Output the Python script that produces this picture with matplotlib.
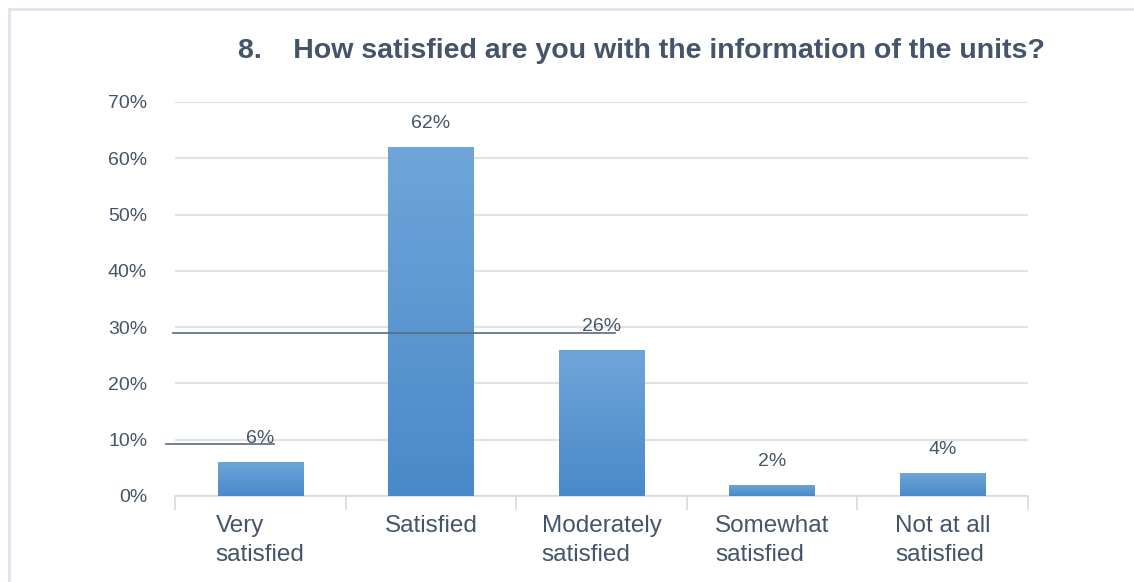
import numpy as np
import matplotlib
matplotlib.use("Agg")
import matplotlib.pyplot as plt
from matplotlib.lines import Line2D
from matplotlib.colors import LinearSegmentedColormap

# chart data
categories = ["Very\nsatisfied", "Satisfied", "Moderately\nsatisfied", "Somewhat\nsatisfied", "Not at all\nsatisfied"]
values = [0.06, 0.62, 0.26, 0.02, 0.04]
value_labels = ["6%", "62%", "26%", "2%", "4%"]
y_ticks = [0, 0.1, 0.2, 0.3, 0.4, 0.5, 0.6, 0.7]
y_tick_labels = ["0%", "10%", "20%", "30%", "40%", "50%", "60%", "70%"]
title = "8.    How satisfied are you with the information of the units?"

text_col = "#44546a"
plt.rcParams['font.family'] = ['Liberation Sans', 'DejaVu Sans']

fig = plt.figure(figsize=(11.34, 5.82), dpi=100)
ax = fig.add_axes([175 / 1134, 1 - 496 / 582, (1028 - 175) / 1134, (496 - 102) / 582])

x = np.arange(len(categories))
bars = ax.bar(x, values, width=0.5, color="#5b9bd5", zorder=2)

# vertical gradient inside each bar
grad = LinearSegmentedColormap.from_list("g", ["#4a89c9", "#6fa5d9"])
for b in bars:
    x0, y0 = b.get_x(), b.get_y()
    w, h = b.get_width(), b.get_height()
    img = ax.imshow(np.linspace(0, 1, 100).reshape(-1, 1), cmap=grad, origin="lower",
                    extent=[x0, x0 + w, y0, y0 + h], aspect="auto", zorder=3)
    img.set_clip_path(b)

ax.set_xlim(-0.5, len(categories) - 0.5)
ax.set_ylim(0, 0.7)
ax.set_yticks(y_ticks)
ax.set_yticklabels(y_tick_labels, fontsize=14, color=text_col)
ax.tick_params(axis="y", length=0, pad=20)
ax.grid(axis="y", color="#e2e2e2", linewidth=1.5, zorder=0)

# category boundaries as tick marks
ax.set_xticks(np.arange(len(categories) + 1) - 0.5, minor=False)
ax.set_xticklabels([])
ax.tick_params(axis="x", length=10, color="#d9d9d9", width=1.2)
for i, c in enumerate(categories):
    ax.text(i, -0.033, c, ha="center", va="top", fontsize=17.5, color=text_col,
            multialignment="left", linespacing=1.42)

for s in ["top", "right", "left"]:
    ax.spines[s].set_visible(False)
ax.spines["bottom"].set_color("#d9d9d9")
ax.spines["bottom"].set_linewidth(1.2)

for i, (v, lab) in enumerate(zip(values, value_labels)):
    ax.annotate(lab, (i, v), xytext=(0, 17), textcoords="offset points",
                ha="center", va="center", fontsize=14, color=text_col)

fig.text(641 / 1134, 1 - 51 / 582, title, ha="center", va="center",
         fontsize=20.5, fontweight="bold", color=text_col)

# page frame (top and left edges)
fig.add_artist(Line2D([9 / 1134, 1], [1 - 9 / 582, 1 - 9 / 582], color="#dfe4ee", lw=2))
fig.add_artist(Line2D([9 / 1134, 9 / 1134], [0, 1 - 9 / 582], color="#dfe4ee", lw=2))

# stray underline strokes from the source
fig.add_artist(Line2D([173 / 1134, 615 / 1134], [1 - 333 / 582, 1 - 333 / 582], color="#5a6a80", lw=1.2, zorder=5))
fig.add_artist(Line2D([166 / 1134, 274 / 1134], [1 - 444 / 582, 1 - 444 / 582], color="#5a6a80", lw=1.2, zorder=5))

fig.savefig("out.png", dpi=100, facecolor="white")
